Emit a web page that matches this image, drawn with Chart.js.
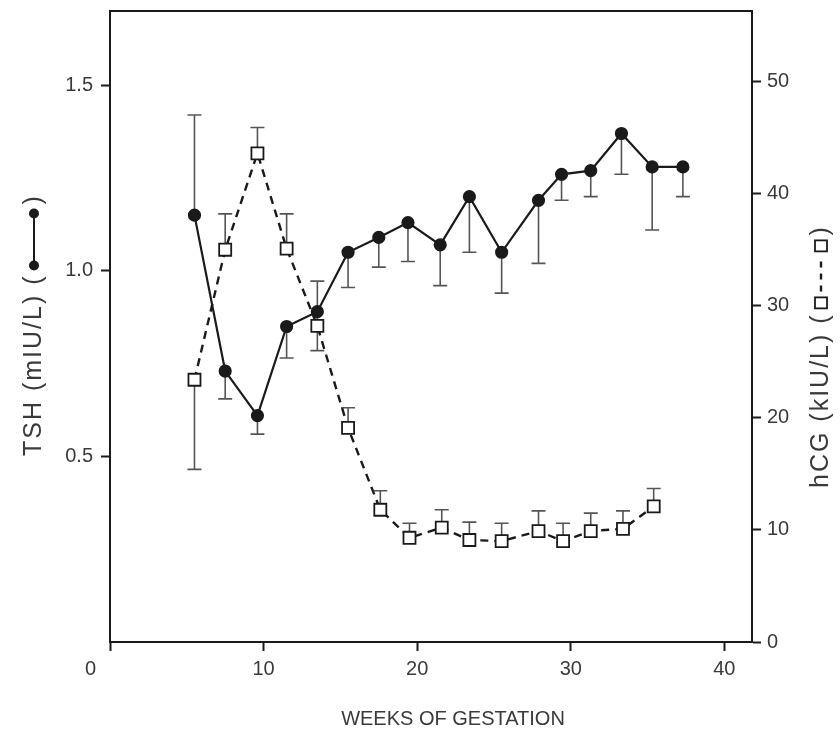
<!DOCTYPE html>
<html>
<head>
<meta charset="utf-8">
<script src="https://cdn.jsdelivr.net/npm/chart.js@4"></script>
<style>
  body { margin: 0; background: #fff; }
  #wrap { width: 840px; height: 732px; }
</style>
</head>
<body>
<div id="wrap"><canvas id="tshChart" width="840" height="732"></canvas></div>
<script>
// values
const tshWeeks   = [5.5, 7.5, 9.6, 11.5, 13.5, 15.5, 17.5, 19.4, 21.5, 23.4, 25.5, 27.9, 29.4, 31.3, 33.3, 35.3, 37.3];
const tshValues  = [1.15, 0.73, 0.61, 0.85, 0.89, 1.05, 1.09, 1.13, 1.07, 1.20, 1.05, 1.19, 1.26, 1.27, 1.37, 1.28, 1.28];
const tshErrEnds = [1.42, 0.655, 0.56, 0.765, 0.785, 0.955, 1.01, 1.025, 0.96, 1.05, 0.94, 1.02, 1.19, 1.20, 1.26, 1.11, 1.20];

const hcgWeeks   = [5.5, 7.5, 9.6, 11.5, 13.5, 15.5, 17.6, 19.5, 21.6, 23.4, 25.5, 27.9, 29.5, 31.3, 33.4, 35.4];
const hcgValues  = [23.4, 35.0, 43.6, 35.1, 28.2, 19.1, 11.8, 9.3, 10.2, 9.1, 9.0, 9.9, 9.0, 9.9, 10.1, 12.1];
const hcgErrEnds = [15.4, 38.2, 45.9, 38.2, 32.2, 20.9, 13.5, 10.6, 11.8, 10.7, 10.6, 11.7, 10.6, 11.5, 11.7, 13.7];

const weekTicks = [0, 10, 20, 30, 40];
const tshTicks  = [0.5, 1.0, 1.5];
const hcgTicks  = [0, 10, 20, 30, 40, 50];

const FONT = '"Liberation Sans", Arial, sans-serif';
const TEXT = '#3a3a3a';
const INK  = '#1a1a1a';

const toPoints = (xs, ys) => xs.map((x, i) => ({ x: x, y: ys[i] }));

// error bars (one-sided, as in the figure)
const errorBars = {
  id: 'errorBars',
  beforeDatasetsDraw(chart) {
    const ctx = chart.ctx;
    chart.data.datasets.forEach((ds, di) => {
      const ys = chart.scales[ds.yAxisID];
      const xs = chart.scales.x;
      ctx.save();
      ctx.strokeStyle = '#555';
      ctx.lineWidth = 1.6;
      ds.errEnds.forEach((e, i) => {
        const px = xs.getPixelForValue(ds.data[i].x);
        const py = ys.getPixelForValue(ds.data[i].y);
        const pe = ys.getPixelForValue(e);
        ctx.beginPath();
        ctx.moveTo(px, py);
        ctx.lineTo(px, pe);
        ctx.moveTo(px - 7, pe);
        ctx.lineTo(px + 7, pe);
        ctx.stroke();
      });
      ctx.restore();
    });
  }
};

// frame top line + axis titles with their little key symbols
const frameAndTitles = {
  id: 'frameAndTitles',
  afterDraw(chart) {
    const ctx = chart.ctx;
    const a = chart.chartArea;
    ctx.save();
    ctx.strokeStyle = INK;
    ctx.lineWidth = 2;
    ctx.beginPath();
    ctx.moveTo(a.left - 1, a.top);
    ctx.lineTo(a.right + 1, a.top);
    ctx.stroke();

    ctx.fillStyle = TEXT;
    ctx.font = '20px ' + FONT;
    ctx.textAlign = 'center';
    ctx.textBaseline = 'middle';
    ctx.fillText('WEEKS OF GESTATION', 453, 719);

    // left title
    ctx.font = '25px ' + FONT;
    ctx.letterSpacing = '2px';
    ctx.textAlign = 'left';
    ctx.save();
    ctx.translate(34, 456);
    ctx.rotate(-Math.PI / 2);
    let t = 'TSH (mIU/L) (';
    ctx.fillText(t, 0, 0);
    let x = ctx.measureText(t).width + 4;
    ctx.strokeStyle = INK;
    ctx.lineWidth = 2;
    ctx.beginPath();
    ctx.moveTo(x + 5, 0);
    ctx.lineTo(x + 57, 0);
    ctx.stroke();
    ctx.fillStyle = INK;
    [x + 5, x + 57].forEach(cx => {
      ctx.beginPath();
      ctx.arc(cx, 0, 5, 0, Math.PI * 2);
      ctx.fill();
    });
    ctx.fillStyle = TEXT;
    ctx.fillText(')', x + 66, 0);
    ctx.restore();

    // right title
    ctx.save();
    ctx.translate(821, 488);
    ctx.rotate(-Math.PI / 2);
    t = 'hCG (kIU/L) (';
    ctx.fillText(t, 0, 0);
    x = ctx.measureText(t).width + 4;
    ctx.strokeStyle = INK;
    ctx.lineWidth = 1.8;
    ctx.strokeRect(x + 1, -6, 11, 12);
    ctx.strokeRect(x + 58, -6, 11, 12);
    ctx.setLineDash([6, 6]);
    ctx.lineWidth = 2.4;
    ctx.beginPath();
    ctx.moveTo(x + 18, 0);
    ctx.lineTo(x + 54, 0);
    ctx.stroke();
    ctx.setLineDash([]);
    ctx.fillText(')', x + 74, 0);
    ctx.restore();
    ctx.restore();
  }
};

const tickGrid = {
  display: true,
  drawOnChartArea: false,
  drawTicks: true,
  tickLength: 9,
  tickWidth: 2,
  color: INK
};
const axisBorder = { display: true, color: INK, width: 2 };
const tickFont = { family: FONT, size: 20 };

new Chart(document.getElementById('tshChart'), {
  type: 'scatter',
  data: {
    datasets: [
      {
        label: 'TSH',
        data: toPoints(tshWeeks, tshValues),
        errEnds: tshErrEnds,
        yAxisID: 'y',
        showLine: true,
        borderColor: INK,
        borderWidth: 2.2,
        pointStyle: 'circle',
        pointRadius: 5.5,
        pointBackgroundColor: INK,
        pointBorderColor: INK,
        tension: 0
      },
      {
        label: 'hCG',
        data: toPoints(hcgWeeks, hcgValues),
        errEnds: hcgErrEnds,
        yAxisID: 'y1',
        showLine: true,
        borderColor: INK,
        borderWidth: 2.4,
        borderDash: [8, 6],
        pointStyle: 'rect',
        pointRadius: 8.5,
        pointBorderWidth: 1.8,
        pointBackgroundColor: '#fff',
        pointBorderColor: INK,
        tension: 0
      }
    ]
  },
  options: {
    responsive: false,
    animation: false,
    layout: { padding: { top: 11, left: 0, right: 0, bottom: 0 } },
    plugins: { legend: { display: false }, tooltip: { enabled: false } },
    scales: {
      x: {
        type: 'linear',
        min: 0,
        max: 41.8,
        afterBuildTicks: s => { s.ticks = weekTicks.map(v => ({ value: v })); },
        afterFit: s => { s.height = 90; s.paddingLeft = 0; s.paddingRight = 0; },
        grid: tickGrid,
        border: axisBorder,
        ticks: {
          color: TEXT,
          font: tickFont,
          padding: 6,
          callback: v => v === 0 ? '0' + ' '.repeat(7) : String(v)
        }
      },
      y: {
        position: 'left',
        min: 0,
        max: 1.7,
        afterBuildTicks: s => { s.ticks = tshTicks.map(v => ({ value: v })); },
        afterFit: s => { s.width = 110; s.paddingTop = 0; s.paddingBottom = 0; },
        grid: tickGrid,
        border: axisBorder,
        ticks: { color: TEXT, font: tickFont, padding: 8, callback: v => v.toFixed(1) }
      },
      y1: {
        position: 'right',
        min: 0,
        max: 56.3,
        afterBuildTicks: s => { s.ticks = hcgTicks.map(v => ({ value: v })); },
        afterFit: s => { s.width = 88; s.paddingTop = 0; s.paddingBottom = 0; },
        grid: tickGrid,
        border: axisBorder,
        ticks: { color: TEXT, font: tickFont, padding: 6, callback: v => String(v) }
      }
    }
  },
  plugins: [errorBars, frameAndTitles]
});
</script>
</body>
</html>
